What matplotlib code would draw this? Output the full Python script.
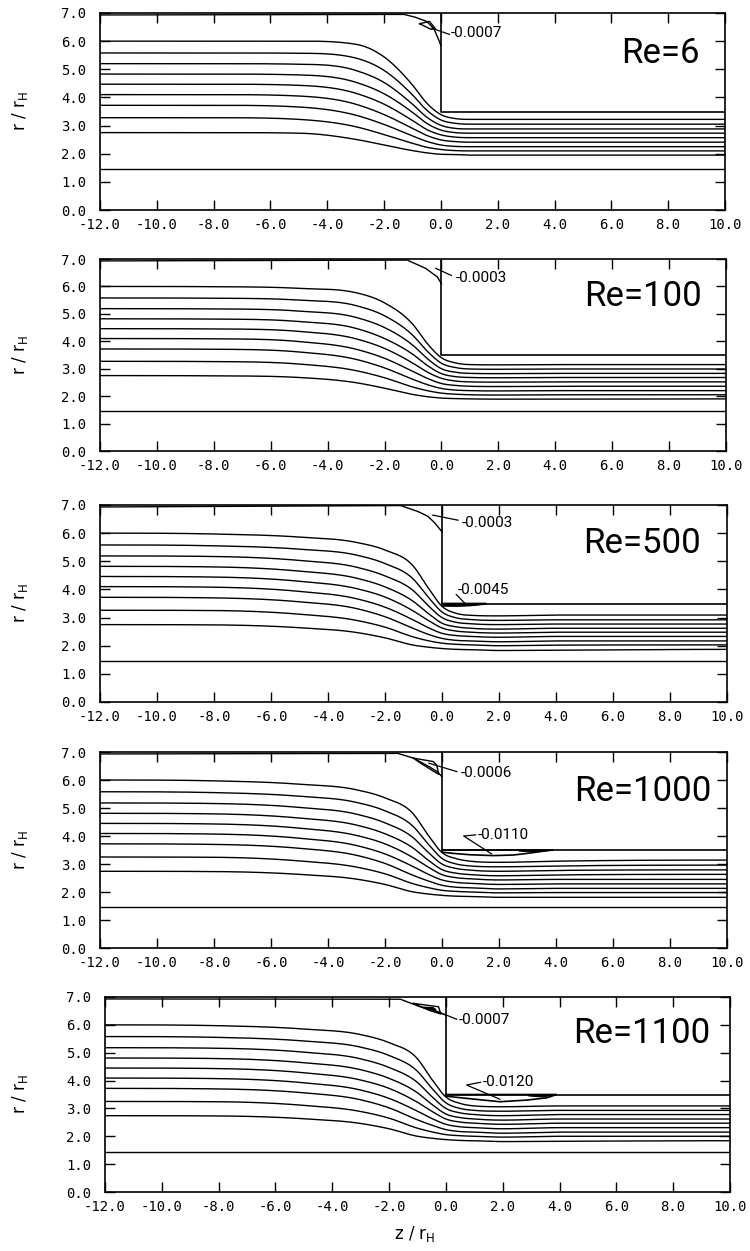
import numpy as np
import matplotlib
matplotlib.use("Agg")
import matplotlib.pyplot as plt

plt.rcParams['axes.unicode_minus'] = False

# ---------------- data ----------------
z_grid = [-12, -8, -5, -3, -2, -1, -0.5, 0, 0.5, 1, 2, 4, 10]
re_labels = ["Re=6", "Re=100", "Re=500", "Re=1000", "Re=1100"]
x_ticks = [-12, -10, -8, -6, -4, -2, 0, 2, 4, 6, 8, 10]
y_ticks = [0, 1, 2, 3, 4, 5, 6, 7]
inner_wall_r = 1.45
step_r = 3.5
wall_r = 7.0
wall_stream_r = 6.93

re6_lines = [
    [6.00, 6.00, 6.00, 5.89, 5.44, 4.44, 3.80, 3.39, 3.25, 3.22, 3.22, 3.22, 3.22],
    [5.58, 5.58, 5.57, 5.40, 4.96, 4.09, 3.55, 3.20, 3.08, 3.05, 3.05, 3.05, 3.05],
    [5.20, 5.20, 5.18, 4.96, 4.53, 3.76, 3.30, 3.01, 2.90, 2.88, 2.88, 2.88, 2.88],
    [4.83, 4.83, 4.80, 4.54, 4.13, 3.47, 3.08, 2.84, 2.75, 2.73, 2.73, 2.73, 2.73],
    [4.47, 4.47, 4.43, 4.15, 3.76, 3.18, 2.86, 2.67, 2.59, 2.57, 2.57, 2.57, 2.57],
    [4.10, 4.10, 4.05, 3.76, 3.39, 2.90, 2.65, 2.49, 2.43, 2.41, 2.41, 2.41, 2.41],
    [3.72, 3.72, 3.66, 3.37, 3.04, 2.63, 2.44, 2.31, 2.26, 2.25, 2.25, 2.25, 2.25],
    [3.28, 3.28, 3.22, 2.96, 2.68, 2.37, 2.23, 2.15, 2.11, 2.10, 2.10, 2.10, 2.10],
    [2.75, 2.75, 2.73, 2.51, 2.31, 2.11, 2.03, 1.98, 1.97, 1.95, 1.95, 1.95, 1.95],
]
re100_lines = [
    [6.00, 5.99, 5.93, 5.77, 5.40, 4.61, 3.92, 3.40, 3.21, 3.15, 3.14, 3.15, 3.15],
    [5.58, 5.57, 5.50, 5.30, 4.93, 4.21, 3.64, 3.20, 3.04, 2.99, 2.98, 2.99, 2.99],
    [5.19, 5.18, 5.10, 4.87, 4.50, 3.85, 3.37, 3.00, 2.87, 2.83, 2.82, 2.83, 2.83],
    [4.82, 4.81, 4.72, 4.47, 4.10, 3.52, 3.12, 2.82, 2.71, 2.68, 2.67, 2.68, 2.68],
    [4.46, 4.45, 4.36, 4.09, 3.74, 3.20, 2.88, 2.65, 2.55, 2.52, 2.51, 2.52, 2.52],
    [4.10, 4.09, 3.99, 3.71, 3.38, 2.90, 2.65, 2.46, 2.39, 2.36, 2.35, 2.36, 2.36],
    [3.72, 3.71, 3.61, 3.34, 3.03, 2.61, 2.42, 2.28, 2.22, 2.20, 2.19, 2.20, 2.20],
    [3.27, 3.26, 3.17, 2.93, 2.67, 2.33, 2.20, 2.11, 2.07, 2.05, 2.04, 2.05, 2.05],
    [2.75, 2.74, 2.68, 2.49, 2.29, 2.06, 1.98, 1.93, 1.91, 1.90, 1.89, 1.89, 1.90],
]
re500_lines = [
    [6.00, 5.97, 5.86, 5.67, 5.40, 4.82, 4.08, 3.40, 3.15, 3.08, 3.06, 3.09, 3.09],
    [5.58, 5.55, 5.43, 5.22, 4.92, 4.36, 3.75, 3.20, 2.99, 2.93, 2.90, 2.92, 2.92],
    [5.19, 5.17, 5.03, 4.79, 4.48, 3.95, 3.44, 3.00, 2.83, 2.78, 2.75, 2.77, 2.77],
    [4.82, 4.80, 4.65, 4.40, 4.09, 3.57, 3.16, 2.80, 2.67, 2.62, 2.59, 2.62, 2.62],
    [4.46, 4.44, 4.29, 4.03, 3.73, 3.23, 2.91, 2.63, 2.52, 2.48, 2.45, 2.48, 2.48],
    [4.10, 4.08, 3.93, 3.67, 3.37, 2.91, 2.65, 2.44, 2.36, 2.33, 2.30, 2.33, 2.33],
    [3.72, 3.70, 3.56, 3.32, 3.03, 2.61, 2.41, 2.26, 2.19, 2.17, 2.14, 2.17, 2.17],
    [3.26, 3.25, 3.12, 2.90, 2.66, 2.31, 2.18, 2.09, 2.05, 2.03, 2.00, 2.02, 2.03],
    [2.75, 2.74, 2.64, 2.47, 2.28, 2.02, 1.95, 1.90, 1.87, 1.86, 1.83, 1.84, 1.87],
]
re1000_lines = [
    [6.00, 5.97, 5.85, 5.65, 5.36, 4.78, 4.05, 3.41, 3.19, 3.10, 3.06, 3.10, 3.14],
    [5.58, 5.55, 5.42, 5.20, 4.90, 4.33, 3.73, 3.20, 3.00, 2.93, 2.90, 2.93, 2.96],
    [5.18, 5.16, 5.02, 4.78, 4.47, 3.93, 3.43, 3.00, 2.84, 2.78, 2.74, 2.77, 2.79],
    [4.81, 4.79, 4.64, 4.39, 4.08, 3.56, 3.15, 2.80, 2.67, 2.62, 2.58, 2.61, 2.63],
    [4.45, 4.43, 4.28, 4.02, 3.72, 3.22, 2.90, 2.62, 2.51, 2.47, 2.43, 2.45, 2.45],
    [4.09, 4.07, 3.92, 3.66, 3.36, 2.90, 2.64, 2.43, 2.34, 2.31, 2.27, 2.29, 2.29],
    [3.72, 3.70, 3.56, 3.31, 3.02, 2.59, 2.40, 2.24, 2.17, 2.15, 2.11, 2.13, 2.13],
    [3.25, 3.24, 3.11, 2.89, 2.65, 2.29, 2.16, 2.06, 2.02, 2.00, 1.97, 1.98, 1.98],
    [2.74, 2.73, 2.63, 2.46, 2.27, 2.00, 1.93, 1.88, 1.85, 1.84, 1.81, 1.81, 1.81],
]
re1100_lines = [
    [6.00, 5.97, 5.85, 5.65, 5.36, 4.78, 4.05, 3.41, 3.18, 3.09, 3.06, 3.09, 3.09],
    [5.58, 5.55, 5.42, 5.20, 4.90, 4.33, 3.73, 3.20, 3.00, 2.93, 2.90, 2.93, 2.93],
    [5.18, 5.16, 5.02, 4.78, 4.47, 3.93, 3.43, 3.00, 2.84, 2.78, 2.74, 2.78, 2.78],
    [4.81, 4.79, 4.64, 4.39, 4.08, 3.56, 3.15, 2.80, 2.67, 2.62, 2.58, 2.62, 2.62],
    [4.45, 4.43, 4.28, 4.02, 3.72, 3.22, 2.90, 2.62, 2.51, 2.47, 2.43, 2.47, 2.47],
    [4.09, 4.07, 3.92, 3.66, 3.36, 2.90, 2.64, 2.43, 2.34, 2.31, 2.27, 2.31, 2.31],
    [3.72, 3.70, 3.56, 3.31, 3.02, 2.59, 2.40, 2.24, 2.17, 2.15, 2.11, 2.15, 2.15],
    [3.25, 3.24, 3.11, 2.89, 2.65, 2.29, 2.16, 2.06, 2.02, 2.00, 1.97, 2.00, 2.00],
    [2.74, 2.73, 2.63, 2.46, 2.27, 2.00, 1.93, 1.88, 1.85, 1.84, 1.81, 1.82, 1.84],
]

# separating streamline near the upstream corner (z, r)
re6_sep_z = [-1.3, -0.9, -0.5, -0.25, -0.1, 0.0]
re6_sep_r = [6.95, 6.85, 6.70, 6.45, 6.10, 5.85]
re100_sep_z = [-1.2, -0.56, -0.32, -0.15, 0.0]
re100_sep_r = [6.96, 6.66, 6.48, 6.35, 6.10]
re500_sep_z = [-1.45, -0.85, -0.5, -0.27, 0.0]
re500_sep_r = [6.98, 6.77, 6.60, 6.38, 6.05]
re1000_sep_z = [-1.55, -1.0, -0.46, -0.17, 0.0]
re1000_sep_r = [6.95, 6.78, 6.48, 6.30, 6.12]
re1100_sep_z = [-1.6, -0.91, -0.32, 0.0]
re1100_sep_r = [6.92, 6.65, 6.47, 6.35]

# closed upstream corner eddies (z, r)
re6_eddy_z = [-0.75, -0.40, -0.20, -0.35, -0.75]
re6_eddy_r = [6.62, 6.70, 6.45, 6.42, 6.62]
re1000_eddy_z = [-1.0, -0.31, -0.19, -0.11, -0.31, -0.78, -1.0]
re1000_eddy_r = [6.78, 6.66, 6.54, 6.20, 6.32, 6.62, 6.78]
re1100_eddy_z = [-1.14, -0.26, -0.18, -0.56, -1.14]
re1100_eddy_r = [6.77, 6.65, 6.39, 6.51, 6.77]
re1100_core_z = [-0.85, -0.45, -0.35, -0.7]
re1100_core_r = [6.64, 6.62, 6.55, 6.59]

# downstream lip bubbles (z, r)
re500_bub_z = [0.0, 0.0, 0.5, 1.0, 1.5, 1.55]
re500_bub_r = [3.5, 3.42, 3.41, 3.43, 3.48, 3.5]
re1000_bub_z = [0.0, 0.0, 0.5, 1.0, 1.8, 2.5, 3.0, 3.5, 3.9]
re1000_bub_r = [3.5, 3.42, 3.37, 3.33, 3.30, 3.32, 3.38, 3.45, 3.5]
re1000_core_z = [2.7, 3.2, 3.8, 3.2]
re1000_core_r = [3.46, 3.43, 3.49, 3.48]
re1100_bub_z = [0.0, 0.0, 0.74, 1.9, 2.85, 3.55, 3.9]
re1100_bub_r = [3.5, 3.44, 3.36, 3.24, 3.30, 3.38, 3.5]
re1100_bcore_z = [2.9, 3.4, 3.9, 3.4]
re1100_bcore_r = [3.45, 3.41, 3.49, 3.48]

eddy_values = ["-0.0007", "-0.0003", "-0.0003", "-0.0006", "-0.0007"]
bubble_values = [None, None, "-0.0045", "-0.0110", "-0.0120"]

# ---------------- helpers ----------------
def smooth_curve(xs, ys, n=600):
    x = np.asarray(xs, float)
    y = np.asarray(ys, float)
    h = np.diff(x)
    d = np.diff(y) / h
    m = np.zeros_like(y)
    for i in range(1, len(x) - 1):
        if d[i - 1] * d[i] > 0:
            s = (h[i] * d[i - 1] + h[i - 1] * d[i]) / (h[i - 1] + h[i])
            lim = 3 * min(abs(d[i - 1]), abs(d[i]))
            m[i] = np.sign(s) * min(abs(s), lim)
    xx = np.linspace(x[0], x[-1], n)
    idx = np.clip(np.searchsorted(x, xx, side='right') - 1, 0, len(h) - 1)
    t = (xx - x[idx]) / h[idx]
    h00 = 2 * t**3 - 3 * t**2 + 1
    h10 = t**3 - 2 * t**2 + t
    h01 = -2 * t**3 + 3 * t**2
    h11 = t**3 - t**2
    yy = h00 * y[idx] + h10 * h[idx] * m[idx] + h01 * y[idx + 1] + h11 * h[idx] * m[idx + 1]
    return xx, yy

W, H = 750, 1251
fig = plt.figure(figsize=(W / 100, H / 100), dpi=100)

panel_px = [(100, 725, 13, 210), (100, 726, 259, 451), (100, 727, 505, 702),
            (100, 727, 752, 948), (105, 730, 997, 1192)]
all_lines = [re6_lines, re100_lines, re500_lines, re1000_lines, re1100_lines]
all_sep = [(re6_sep_z, re6_sep_r), (re100_sep_z, re100_sep_r), (re500_sep_z, re500_sep_r),
           (re1000_sep_z, re1000_sep_r), (re1100_sep_z, re1100_sep_r)]
all_eddy = [(re6_eddy_z, re6_eddy_r), None, None,
            (re1000_eddy_z, re1000_eddy_r), (re1100_eddy_z, re1100_eddy_r)]
all_eddy_core = [None, None, None, None, (re1100_core_z, re1100_core_r)]
all_bub = [None, None, (re500_bub_z, re500_bub_r), (re1000_bub_z, re1000_bub_r),
           (re1100_bub_z, re1100_bub_r)]
all_bub_core = [None, None, (re500_bub_z, re500_bub_r), (re1000_core_z, re1000_core_r),
                (re1100_bcore_z, re1100_bcore_r)]
re_pos = [(9.1, 5.57), (9.15, 5.65), (9.1, 5.62), (9.45, 5.58), (9.3, 5.68)]
eddy_label_pos = [(0.35, 6.28), (0.5, 6.32), (0.7, 6.36), (0.65, 6.24), (0.45, 6.17)]
eddy_leader = [([-0.32, 0.30], [6.46, 6.24]), ([-0.2, 0.35], [6.66, 6.40]),
               ([-0.32, 0.56], [6.64, 6.46]), ([-0.46, 0.52], [6.60, 6.30]),
               ([-0.56, 0.38], [6.59, 6.20])]
bub_label_pos = [None, None, (0.55, 3.98), (1.25, 4.05), (1.28, 3.96)]
bub_leader = [None, None, ([0.5, 0.85], [3.82, 3.46]),
              ([1.18, 0.76, 1.74], [4.04, 4.0, 3.36]),
              ([1.22, 0.73, 1.9], [3.94, 3.84, 3.33])]

lw = 1.0
for i, (l, r, t, b) in enumerate(panel_px):
    ax = fig.add_axes([l / W, 1 - b / H, (r - l) / W, (b - t) / H])
    ax.set_xlim(-12, 10)
    ax.set_ylim(0, 7)
    for s in ax.spines.values():
        s.set_linewidth(1.2)
    # streamlines
    for line in all_lines[i]:
        zz, rr = smooth_curve(z_grid, line)
        ax.plot(zz, rr, color='black', lw=lw)
    # inner wall and step
    ax.plot([-12, 10], [inner_wall_r, inner_wall_r], color='black', lw=lw)
    ax.plot([0, 0, 10], [wall_r, step_r, step_r], color='black', lw=1.2)
    # wall streamline + separating line
    sz, sr = all_sep[i]
    ax.plot([-12] + sz, [wall_stream_r] + sr, color='black', lw=lw)
    if all_eddy[i] is not None:
        ez, er = all_eddy[i]
        ax.plot(ez, er, color='black', lw=lw)
    if all_eddy_core[i] is not None:
        cz, cr = all_eddy_core[i]
        ax.fill(cz, cr, color='black', lw=0.8)
    ax.plot(*eddy_leader[i], color='black', lw=0.9)
    ax.text(eddy_label_pos[i][0], eddy_label_pos[i][1], eddy_values[i],
            fontsize=11, family='Roboto', va='center', ha='left')
    if all_bub[i] is not None:
        bz, br = all_bub[i]
        ax.fill(bz + [bz[0]], br + [br[0]], facecolor='none', edgecolor='black', lw=1.2)
        cz, cr = all_bub_core[i]
        ax.fill(cz, cr, color='black', lw=0.8)
        ax.plot(*bub_leader[i], color='black', lw=0.9)
        ax.text(bub_label_pos[i][0], bub_label_pos[i][1], bubble_values[i],
                fontsize=11, family='Roboto', va='center', ha='left')
    ax.text(re_pos[i][0], re_pos[i][1], re_labels[i], fontsize=25, family='Roboto',
            ha='right', va='center')
    ax.set_xticks(x_ticks)
    ax.set_xticklabels(["%.1f" % v for v in x_ticks])
    ax.set_yticks(y_ticks)
    ax.set_yticklabels(["%.1f" % v for v in y_ticks])
    ax.tick_params(direction='in', top=True, right=True, length=7, width=1.0,
                   labelsize=10)
    ax.tick_params(axis='y', pad=10)
    ax.tick_params(axis='x', pad=6)
    for lab in ax.get_xticklabels() + ax.get_yticklabels():
        lab.set_family('DejaVu Sans Mono')
    fig.text(20 / W, 1 - (t + b) / 2 / H, 'r / r$_{\\mathrm{H}}$', rotation=90,
             ha='center', va='center', fontsize=12)

fig.text(415 / W, 1 - 1234 / H, 'z / r$_{\\mathrm{H}}$', ha='center', va='center', fontsize=12)

fig.savefig('out.png', dpi=100)
